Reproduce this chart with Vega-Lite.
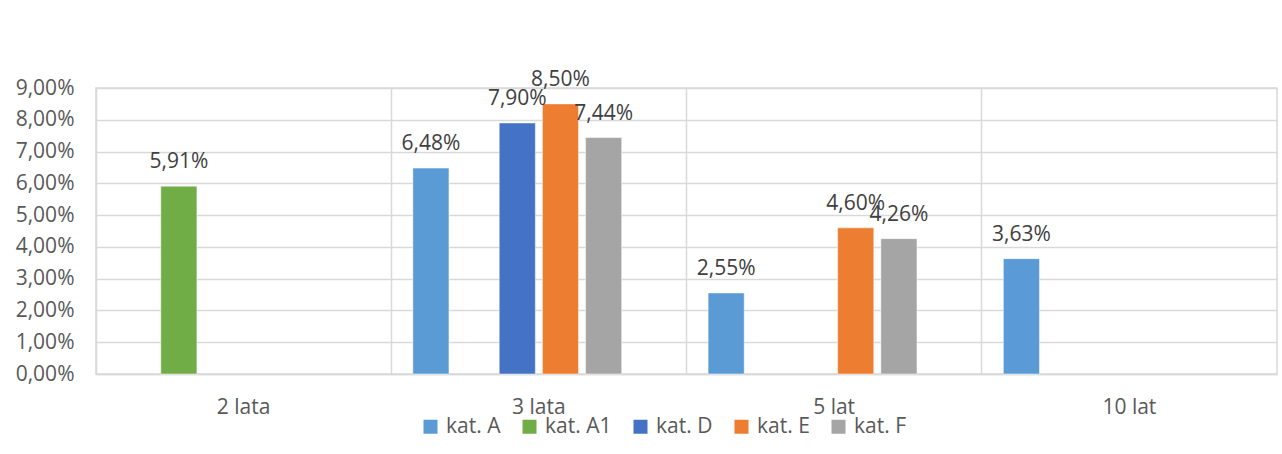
{
  "$schema": "https://vega.github.io/schema/vega-lite/v6.json",
  "width": 1181,
  "height": 286,
  "autosize": {"type": "none"},
  "padding": {"left": 96, "top": 88, "right": 5, "bottom": 80},
  "background": "white",
  "config": {
    "locale": {"number": {"decimal": ",", "thousands": " ", "grouping": [3], "currency": ["", " zł"]}},
    "font": "Open Sans",
    "view": {"stroke": "#D9D9D9", "strokeWidth": 1.5},
    "axis": {"labelFont": "Open Sans", "labelColor": "#595959", "labelFontSize": 21, "gridColor": "#D9D9D9", "gridWidth": 1.5, "domainColor": "#D9D9D9", "title": null, "labelOverlap": false}
  },
  "data": {"values": [
    {"okres": "2 lata", "kat": "kat. A1", "v": 0.0591},
    {"okres": "3 lata", "kat": "kat. A", "v": 0.0648},
    {"okres": "3 lata", "kat": "kat. D", "v": 0.0790},
    {"okres": "3 lata", "kat": "kat. E", "v": 0.0850},
    {"okres": "3 lata", "kat": "kat. F", "v": 0.0744},
    {"okres": "5 lat", "kat": "kat. A", "v": 0.0255},
    {"okres": "5 lat", "kat": "kat. E", "v": 0.0460},
    {"okres": "5 lat", "kat": "kat. F", "v": 0.0426},
    {"okres": "10 lat", "kat": "kat. A", "v": 0.0363}
  ]},
  "layer": [
    {
      "mark": {"type": "bar", "stroke": "white", "strokeWidth": 0.5},
      "encoding": {
        "x": {"field": "okres", "type": "nominal", "sort": ["2 lata", "3 lata", "5 lat", "10 lat"],
              "scale": {"paddingInner": 0, "paddingOuter": 0},
              "axis": {"labelAngle": 0, "ticks": false, "labelPadding": 22, "domainWidth": 1.5, "grid": false, "orient": "bottom"}},
        "xOffset": {"field": "kat", "type": "nominal",
                    "scale": {"domain": ["kat. A", "kat. A1", "kat. D", "kat. E", "kat. F", "kat. G"], "paddingInner": 0.163, "paddingOuter": 0.5}},
        "y": {"field": "v", "type": "quantitative", "scale": {"domain": [0, 0.09], "nice": false},
              "axis": {"values": [0, 0.01, 0.02, 0.03, 0.04, 0.05, 0.06, 0.07, 0.08, 0.09], "format": ".2%", "ticks": false, "labelPadding": 22, "domain": false, "labelOverlap": false, "grid": true}},
        "color": {"field": "kat", "type": "nominal",
                  "scale": {"domain": ["kat. A", "kat. A1", "kat. D", "kat. E", "kat. F"], "range": ["#5B9BD5", "#70AD47", "#4472C4", "#ED7D31", "#A5A5A5"]},
                  "legend": {"orient": "none", "legendX": 324, "legendY": 328, "direction": "horizontal", "title": null,
                             "symbolType": "square", "symbolSize": 196, "symbolStrokeWidth": 0, "labelFontSize": 21,
                             "labelFont": "Open Sans", "labelColor": "#595959", "columnPadding": 18, "labelOffset": 5}}
      }
    },
    {
      "mark": {"type": "text", "dy": -18, "baseline": "alphabetic", "fontSize": 21, "color": "#404040", "font": "Open Sans"},
      "encoding": {
        "x": {"field": "okres", "type": "nominal", "sort": ["2 lata", "3 lata", "5 lat", "10 lat"],
              "axis": {"orient": "top", "bandPosition": 0, "grid": true, "labels": false, "ticks": false, "domain": false}},
        "xOffset": {"field": "kat", "type": "nominal"},
        "y": {"field": "v", "type": "quantitative",
              "axis": {"values": [0, 0.01, 0.02, 0.03, 0.04, 0.05, 0.06, 0.07, 0.08, 0.09], "format": ".2%", "ticks": false, "labelPadding": 22, "domain": false, "labelOverlap": false, "grid": true}},
        "text": {"field": "v", "type": "quantitative", "format": ".2%"}
      }
    }
  ],
  "resolve": {"axis": {"x": "independent"}}
}
